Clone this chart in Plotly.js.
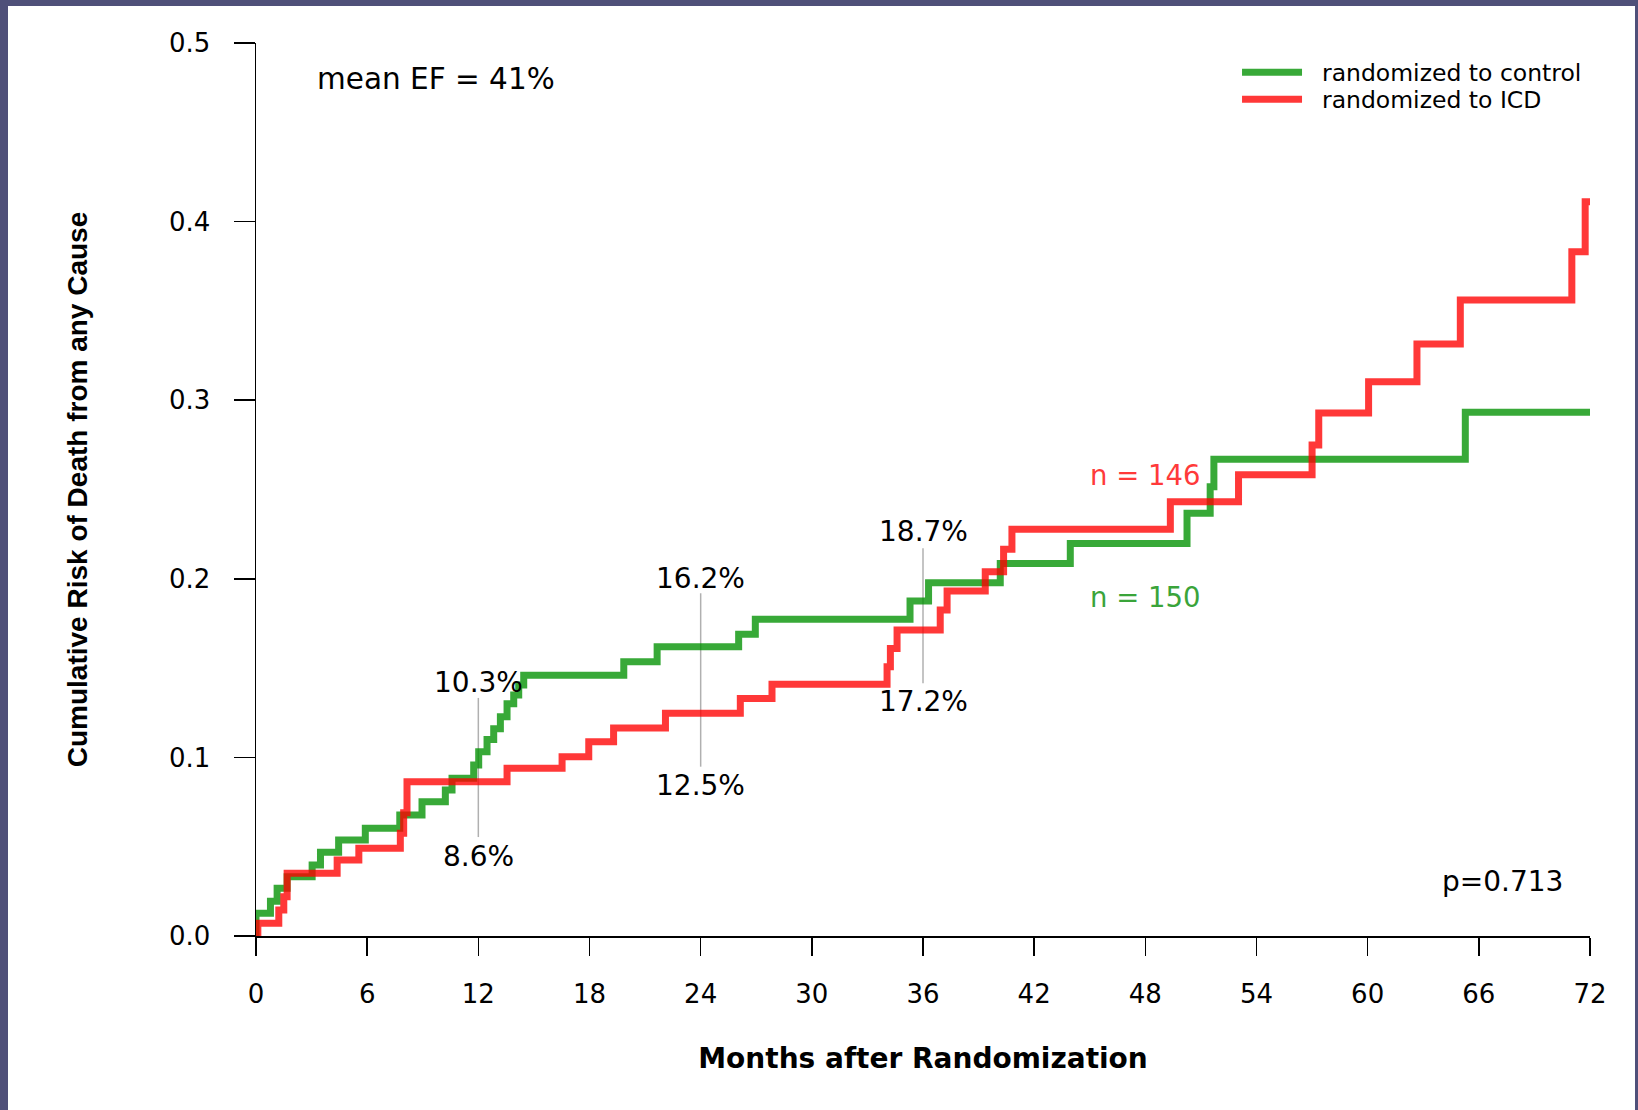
<!DOCTYPE html>
<html>
<head>
<meta charset="utf-8">
<script src="https://cdn.plot.ly/plotly-3.0.1.min.js"></script>
<style>
  html, body { margin: 0; padding: 0; background: #4f5079; width: 1638px; height: 1110px; overflow: hidden; }
  #chart { position: absolute; left: 8px; top: 6px; width: 1627px; height: 1104px; background: #ffffff; }
</style>
</head>
<body>
<div id="chart"></div>
<script>
// ---- data ----
const controlMonths = [0, 0, 0.78, 1.14, 1.68, 3.03, 3.48, 4.46, 5.90, 7.76, 8.96, 10.22, 10.58, 11.75, 12.02, 12.47, 12.83, 13.19, 13.55, 13.91, 14.18, 14.45, 19.85, 21.65, 26.05, 26.95, 35.3, 36.3, 40.17, 43.95, 50.25, 51.5, 51.7, 65.27, 72];
const controlRisk   = [0, 0.0127, 0.0195, 0.0267, 0.0332, 0.0397, 0.0469, 0.0537, 0.0603, 0.0677, 0.0752, 0.0817, 0.0883, 0.0957, 0.1032, 0.110, 0.116, 0.1228, 0.130, 0.135, 0.1405, 0.146, 0.1536, 0.162, 0.169, 0.1773, 0.1876, 0.1978, 0.2086, 0.2198, 0.2367, 0.2516, 0.2669, 0.2932, 0.2932];

const icdMonths = [0, 0.1, 1.23, 1.5, 1.68, 4.38, 5.55, 7.79, 7.97, 8.15, 13.55, 16.52, 17.96, 19.3, 22.1, 26.14, 27.85, 34.06, 34.24, 34.6, 36.93, 37.3, 39.36, 40.35, 40.8, 49.35, 53.03, 57.0, 57.36, 60.05, 62.66, 65.0, 71.02, 71.74, 72];
const icdRisk   = [0, 0.0071, 0.0146, 0.022, 0.0351, 0.0425, 0.0491, 0.0575, 0.069, 0.0864, 0.0939, 0.1004, 0.1088, 0.1164, 0.1247, 0.133, 0.141, 0.1508, 0.161, 0.1713, 0.1825, 0.1932, 0.204, 0.2165, 0.2278, 0.2432, 0.2583, 0.2749, 0.2929, 0.3103, 0.3315, 0.3561, 0.3831, 0.4111, 0.4111];

// landmark annotations (months, label, label y, line from/to)
const markMonths    = [12, 24, 36];
const controlLabels = ['10.3%', '16.2%', '18.7%'];
const icdLabels     = ['8.6%', '12.5%', '17.2%'];
const upperLabelY   = [0.142, 0.2003, 0.2264];
const lowerLabelY   = [0.0444, 0.0845, 0.1312];
const markLineLow   = [0.0554, 0.0948, 0.1415];
const markLineHigh  = [0.1333, 0.1919, 0.2171];

const seriesNames = ['randomized to control', 'randomized to ICD'];
const nLabels = ['n = 150', 'n = 146'];
const nLabelMonth = [48, 48];
const nLabelY = [0.19, 0.258];

const xTicks = [0, 6, 12, 18, 24, 30, 36, 42, 48, 54, 60, 66, 72];
const yTicks = [0, 0.1, 0.2, 0.3, 0.4, 0.5];

const GREEN = 'rgba(0,145,0,0.78)';
const RED = 'rgba(255,0,0,0.78)';
const FONT = 'DejaVu Sans, sans-serif';
const NBSP = '\u00a0\u00a0';

// ---- traces ----
const traces = [];
markMonths.forEach((m, i) => {
  traces.push({
    x: [m, m], y: [markLineLow[i], markLineHigh[i]],
    mode: 'lines', line: { color: '#b0b0b0', width: 1.5 },
    showlegend: false, hoverinfo: 'skip'
  });
});
traces.push({
  x: controlMonths, y: controlRisk, name: NBSP + seriesNames[0], legend: 'legend',
  mode: 'lines', line: { shape: 'hv', color: GREEN, width: 7 }
});
traces.push({
  x: icdMonths, y: icdRisk, name: NBSP + seriesNames[1], legend: 'legend2',
  mode: 'lines', line: { shape: 'hv', color: RED, width: 7 }
});

// ---- annotations ----
const ann = [];
markMonths.forEach((m, i) => {
  ann.push({ x: m, y: upperLabelY[i], text: controlLabels[i], showarrow: false, xref: 'x', yref: 'y', font: { family: FONT, size: 28, color: '#000' } });
  ann.push({ x: m, y: lowerLabelY[i], text: icdLabels[i], showarrow: false, xref: 'x', yref: 'y', font: { family: FONT, size: 28, color: '#000' } });
});
ann.push({ x: nLabelMonth[0], y: nLabelY[0], text: nLabels[0], showarrow: false, font: { family: FONT, size: 27.5, color: '#3aa43a' } });
ann.push({ x: nLabelMonth[1], y: nLabelY[1], text: nLabels[1], showarrow: false, font: { family: FONT, size: 27.5, color: '#ff3a3a' } });
ann.push({ x: 3.2, y: 0.480, xanchor: 'left', text: 'mean EF = 41%', showarrow: false, font: { family: FONT, size: 29.5, color: '#000' } });
ann.push({ x: 67.3, y: 0.0304, text: 'p=0.713', showarrow: false, font: { family: FONT, size: 28, color: '#000' } });

const legendCommon = {
  xanchor: 'left', yanchor: 'top',
  bgcolor: 'rgba(0,0,0,0)', font: { family: FONT, size: 23.5, color: '#000' },
  itemwidth: 60
};

const layout = {
  width: 1627, height: 1104,
  paper_bgcolor: '#ffffff', plot_bgcolor: '#ffffff',
  margin: { l: 247.6, r: 45, t: 37, b: 174 },
  showlegend: true,
  legend: Object.assign({ x: 0.7354, y: 0.9916 }, legendCommon),
  legend2: Object.assign({ x: 0.7354, y: 0.9614 }, legendCommon),
  xaxis: {
    range: [0, 72], tickvals: xTicks, ticktext: xTicks.map(String),
    showline: true, linecolor: '#000', linewidth: 1.5,
    ticks: 'outside', ticklen: 18, tickwidth: 1.5, tickcolor: '#000',
    showgrid: false, zeroline: false,
    tickfont: { family: FONT, size: 26, color: '#000' },
    ticklabelstandoff: 16,
    title: { text: 'Months after Randomization', font: { family: FONT, size: 28, color: '#000', weight: 'bold' }, standoff: 40 }
  },
  yaxis: {
    range: [0, 0.5], tickvals: yTicks, ticktext: yTicks.map(v => v.toFixed(1)),
    showline: true, linecolor: '#000', linewidth: 1.5,
    ticks: 'outside', ticklen: 21, tickwidth: 1.5, tickcolor: '#000',
    showgrid: false, zeroline: false,
    tickfont: { family: FONT, size: 26, color: '#000' },
    ticklabelstandoff: 18,
    title: { text: 'Cumulative Risk of Death from any Cause', font: { family: 'Liberation Sans, Arial, sans-serif', size: 28, color: '#000', weight: 'bold' }, standoff: 73 }
  },
  annotations: ann
};

Plotly.newPlot('chart', traces, layout, { staticPlot: true, displayModeBar: false });
</script>
</body>
</html>
